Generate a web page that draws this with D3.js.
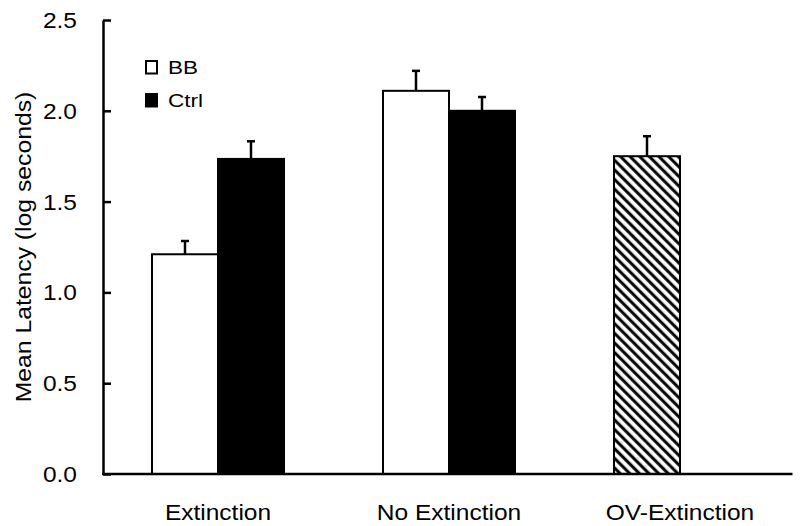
<!DOCTYPE html>
<html>
<head>
<meta charset="utf-8">
<script src="https://cdn.jsdelivr.net/npm/d3@7"></script>
<style>
  html, body { margin: 0; padding: 0; background: #fff; }
  svg { display: block; font-family: "Liberation Sans", Arial, Helvetica, sans-serif; }
</style>
</head>
<body>
<svg id="chart" width="800" height="526"></svg>
<script>
// ---- data ----
const categories = ["Extinction", "No Extinction", "OV-Extinction"];
const seriesNames = ["BB", "Ctrl"];
const bbMeans   = [1.21, 2.11, null];
const bbErrors  = [0.073, 0.11, null];
const ctrlMeans = [1.735, 2.00, null];
const ctrlErrors= [0.097, 0.076, null];
const ovMean  = 1.75;   // OV-Extinction (hatched)
const ovError = 0.11;
const yTicks = [0, 0.5, 1.0, 1.5, 2.0, 2.5];
const yLabel = "Mean Latency (log seconds)";

// ---- layout ----
const svg = d3.select("#chart");
const axisX = 103, y0 = 474, yTop = 20, xEnd = 795.5;
const sx = 1.14; // horizontal glyph stretch of the reference font

const y = d3.scaleLinear().domain([0, 2.5]).range([y0, yTop]);
const x0 = d3.scaleBand().domain(categories).range([axisX - 0.5, xEnd]).padding(0);
const x1 = d3.scaleBand().domain(seriesNames).range([0, x0.bandwidth()]).paddingInner(0).paddingOuter(0.75);

// hatch pattern
const defs = svg.append("defs");
const pat = defs.append("pattern")
  .attr("id", "hatch").attr("patternUnits", "userSpaceOnUse")
  .attr("width", 6.8).attr("height", 6.8)
  .attr("patternTransform", "rotate(-45)");
pat.append("rect").attr("width", 6.8).attr("height", 6.8).attr("fill", "#fff");
pat.append("line").attr("x1", 1.7).attr("x2", 1.7).attr("y1", 0).attr("y2", 6.8)
  .attr("stroke", "#000").attr("stroke-width", 3);

// build bar records
const bars = [];
categories.forEach((c, i) => {
  if (bbMeans[i] != null) bars.push({cat: c, s: "BB", v: bbMeans[i], e: bbErrors[i], fill: "#fff"});
  if (ctrlMeans[i] != null) bars.push({cat: c, s: "Ctrl", v: ctrlMeans[i], e: ctrlErrors[i], fill: "#000"});
});
bars.push({cat: "OV-Extinction", s: "BB", v: ovMean, e: ovError, fill: "url(#hatch)"});

const g = svg.append("g");

// error bars (behind bars)
const eb = g.selectAll("g.err").data(bars).join("g").attr("class", "err");
eb.append("line")
  .attr("x1", d => x0(d.cat) + x1(d.s) + x1.bandwidth() / 2)
  .attr("x2", d => x0(d.cat) + x1(d.s) + x1.bandwidth() / 2)
  .attr("y1", d => y(d.v)).attr("y2", d => y(d.v + d.e))
  .attr("stroke", "#000").attr("stroke-width", 2.5);
eb.append("line")
  .attr("x1", d => x0(d.cat) + x1(d.s) + x1.bandwidth() / 2 - 4)
  .attr("x2", d => x0(d.cat) + x1(d.s) + x1.bandwidth() / 2 + 4)
  .attr("y1", d => y(d.v + d.e)).attr("y2", d => y(d.v + d.e))
  .attr("stroke", "#000").attr("stroke-width", 2.5);

// bars
g.selectAll("rect.bar").data(bars).join("rect").attr("class", "bar")
  .attr("x", d => x0(d.cat) + x1(d.s))
  .attr("width", x1.bandwidth())
  .attr("y", d => y(d.v))
  .attr("height", d => y0 - y(d.v))
  .attr("fill", d => d.fill)
  .attr("stroke", "#000").attr("stroke-width", 2);

// y axis
const yAxis = svg.append("g").attr("transform", `translate(${axisX},0)`)
  .call(d3.axisLeft(y).tickValues(yTicks).tickFormat(d3.format(".1f"))
    .tickSizeInner(-8).tickSizeOuter(0).tickPadding(26));
yAxis.select(".domain").attr("stroke", "#000").attr("stroke-width", 2.5);
yAxis.selectAll(".tick line").attr("stroke", "#000").attr("stroke-width", 2.5);
yAxis.selectAll(".tick text")
  .attr("x", null).attr("dy", null)
  .attr("transform", `translate(-26,0) scale(${sx},1)`)
  .attr("dominant-baseline", "central")
  .attr("text-anchor", "end")
  .style("font-size", "21.5px").attr("fill", "#000");

// x axis
const xAxis = svg.append("g").attr("transform", `translate(0,${y0})`)
  .call(d3.axisBottom(x0).tickSize(0).tickPadding(0));
xAxis.select(".domain").attr("d", `M${axisX - 1},0H${xEnd - 3}`).attr("stroke", "#000").attr("stroke-width", 2.5);
xAxis.selectAll(".tick text")
  .attr("y", null).attr("dy", null)
  .attr("transform", `translate(0,45.5) scale(${sx},1)`)
  .attr("text-anchor", "middle")
  .style("font-size", "21.5px").attr("fill", "#000");

// y label
svg.append("text")
  .attr("transform", `translate(31,${(91 + 403) / 2}) rotate(-90) scale(1.15,1)`)
  .attr("text-anchor", "middle")
  .style("font-size", "21.5px").attr("fill", "#000")
  .text(yLabel);

// legend
const legend = svg.append("g");
const legendFills = ["#fff", "#000"];
const legendY = [61, 94];
seriesNames.forEach((s, i) => {
  legend.append("rect").attr("x", 146).attr("y", legendY[i]).attr("width", 11).attr("height", 12.5)
    .attr("fill", legendFills[i]).attr("stroke", "#000").attr("stroke-width", 2);
  legend.append("text")
    .attr("transform", `translate(168,${legendY[i] + 12.8}) scale(1.25,1)`)
    .style("font-size", "18px").attr("fill", "#000").text(s);
});
</script>
</body>
</html>
